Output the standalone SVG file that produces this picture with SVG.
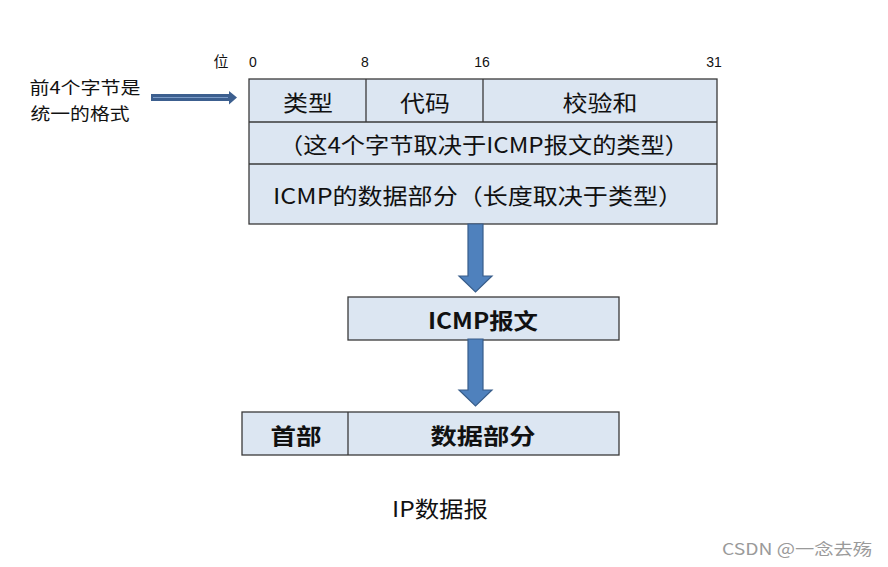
<svg xmlns="http://www.w3.org/2000/svg" width="888" height="567" viewBox="0 0 888 567">
<defs>
<style>
.box{fill:#DCE6F2;stroke:#3a3a3a;stroke-width:1.3}
.t{font-family:"Noto Sans CJK SC","Liberation Sans",sans-serif;fill:#111;text-anchor:middle;dominant-baseline:central}
.b{font-weight:bold}
.n{font-family:"Liberation Sans","Noto Sans CJK SC",sans-serif;font-size:14px;fill:#111;text-anchor:middle}
.arr{fill:#4F81BD;stroke:#385D8A;stroke-width:1.2}
</style>
</defs>
<rect width="888" height="567" fill="#fff"/>
<g id="bitlabels">
<text class="t" x="221" y="60" font-size="15">位</text>
<text class="n" x="253" y="67">0</text>
<text class="n" x="365" y="67">8</text>
<text class="n" x="482" y="67">16</text>
<text class="n" x="714" y="67">31</text>
</g>
<g id="note">
<text class="t" x="85" y="86" font-size="17" textLength="111" lengthAdjust="spacingAndGlyphs">前4个字节是</text>
<text class="t" x="80" y="112" font-size="17" textLength="99" lengthAdjust="spacingAndGlyphs">统一的格式</text>
</g>
<g id="icmp-format">
<rect class="box" x="249" y="79" width="468" height="145"/>
<line x1="249" y1="122" x2="717" y2="122" stroke="#3a3a3a" stroke-width="1.3"/>
<line x1="249" y1="164" x2="717" y2="164" stroke="#3a3a3a" stroke-width="1.3"/>
<line x1="366" y1="79" x2="366" y2="122" stroke="#3a3a3a" stroke-width="1.3"/>
<line x1="483" y1="79" x2="483" y2="122" stroke="#3a3a3a" stroke-width="1.3"/>
<text class="t" x="308" y="101" font-size="22" textLength="50" lengthAdjust="spacingAndGlyphs">类型</text>
<text class="t" x="425" y="101" font-size="22" textLength="50" lengthAdjust="spacingAndGlyphs">代码</text>
<text class="t" x="600" y="101" font-size="22" textLength="75" lengthAdjust="spacingAndGlyphs">校验和</text>
<text class="t" x="484" y="143" font-size="22" textLength="410" lengthAdjust="spacingAndGlyphs">（这4个字节取决于ICMP报文的类型）</text>
<text class="t" x="478" y="194" font-size="22" textLength="410" lengthAdjust="spacingAndGlyphs">ICMP的数据部分（长度取决于类型）</text>
</g>
<g id="icmp-msg">
<rect class="box" x="348" y="297" width="271" height="43"/>
<text class="t b" x="483" y="319" font-size="22" textLength="110" lengthAdjust="spacingAndGlyphs">ICMP报文</text>
</g>
<g id="ip-datagram">
<rect class="box" x="242" y="412" width="377" height="43"/>
<line x1="348" y1="412" x2="348" y2="455" stroke="#3a3a3a" stroke-width="1.3"/>
<text class="t b" x="296" y="434" font-size="22" textLength="51" lengthAdjust="spacingAndGlyphs">首部</text>
<text class="t b" x="483" y="434" font-size="22" textLength="105" lengthAdjust="spacingAndGlyphs">数据部分</text>
</g>
<g id="caption">
<text class="t" x="440" y="507" font-size="22" textLength="96" lengthAdjust="spacingAndGlyphs">IP数据报</text>
</g>
<g id="connectors">
<polygon fill="#3C5F8F" points="151,94 229,94 229,91 237,97.5 229,104.5 229,101 151,101"/>
<line x1="153" y1="97.5" x2="228" y2="97.5" stroke="#7C9CC8" stroke-width="1"/>
<polygon class="arr" points="468,224 483,224 483,276 492,276 475.5,292 459,276 468,276"/>
<polygon class="arr" points="468,339 483,339 483,390 492,390 475.5,406 459,390 468,390"/>
</g>
<text class="t" x="797" y="548" font-size="16" fill="#999" style="fill:#9a9a9a" textLength="150" lengthAdjust="spacingAndGlyphs">CSDN @一念去殇</text>
</svg>
